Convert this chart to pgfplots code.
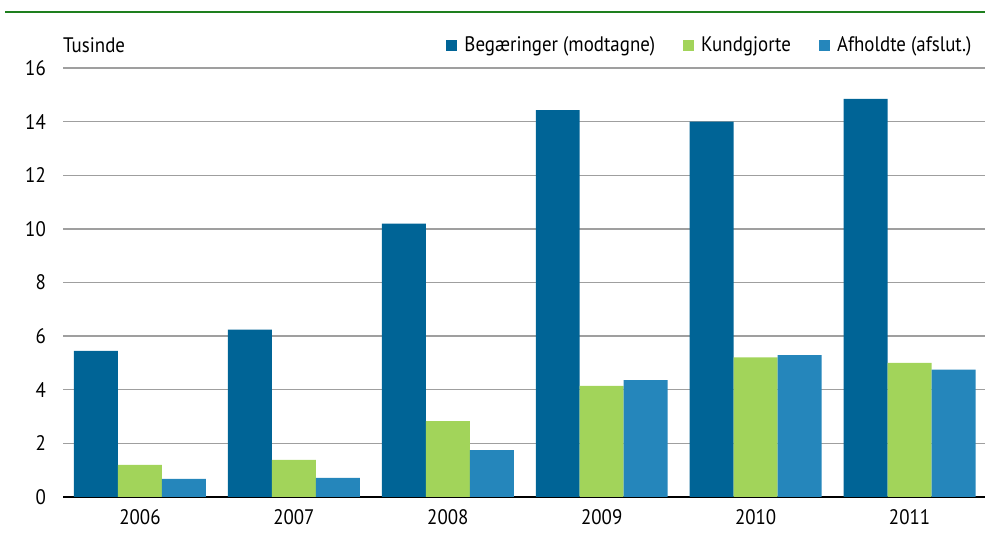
\documentclass[border=0pt]{standalone}
\usepackage{fontspec}
\setmainfont{PT Sans}[FakeStretch=0.9]
\usepackage{pgfplots}
\pgfplotsset{compat=1.18}
\definecolor{cA}{HTML}{006496}
\definecolor{cB}{HTML}{A2D45A}
\definecolor{cC}{HTML}{2586BB}
\definecolor{gline}{HTML}{1E7F1E}
\begin{document}
\fontsize{21bp}{24bp}\selectfont
\begin{tikzpicture}
\path[use as bounding box] (0bp,0bp) rectangle (985bp,537bp);
\draw[gline, line width=2.2bp] (5bp,525bp) -- (985bp,525bp);
\begin{axis}[
  at={(63bp,40bp)}, anchor=south west,
  scale only axis, width=922bp, height=429bp,
  xmin=-0.5, xmax=5.49, ymin=0, ymax=16,
  ybar=0pt, bar width=0.2857,
  xtick={0,1,2,3,4,5},
  xticklabels={2006,2007,2008,2009,2010,2011},
  ytick={0,2,...,16},
  major tick length=0pt,
  ymajorgrids, grid style={gray!75, line width=1.3bp},
  axis lines*=left,
  x axis line style={black, line width=2.4bp, -},
  y axis line style={draw=none},
  yticklabel style={xshift=-10bp},
  xticklabel style={yshift=-5bp},
  /pgf/number format/assume math mode=true,
  tick label style={font=\fontsize{21bp}{24bp}\selectfont},
  legend columns=3,
  legend style={draw=none, fill=none, at={(axis description cs:0.991,1.053)}, anchor=east,
    font=\fontsize{21bp}{24bp}\selectfont, column sep=5bp,
    /tikz/every even column/.append style={column sep=26bp}},
  legend image code/.code={\fill[#1] (0bp,-5.5bp) rectangle (11bp,5.5bp);},
  clip=false,
]
\addplot[fill=cA, draw=none, bar shift=-0.2857] coordinates {(0,5.45) (1,6.24) (2,10.2) (3,14.43) (4,14.0) (5,14.85)};
\addplot[fill=cB, draw=none, bar shift=0] coordinates {(0,1.2) (1,1.38) (2,2.83) (3,4.14) (4,5.21) (5,5.0)};
\addplot[fill=cC, draw=none, bar shift=0.2857] coordinates {(0,0.68) (1,0.71) (2,1.75) (3,4.36) (4,5.29) (5,4.75)};
\legend{Begæringer (modtagne),Kundgjorte,Afholdte (afslut.)}
\node[anchor=west, inner sep=0pt] at (axis description cs:0,1.053) {Tusinde};
\end{axis}
\end{tikzpicture}
\end{document}
